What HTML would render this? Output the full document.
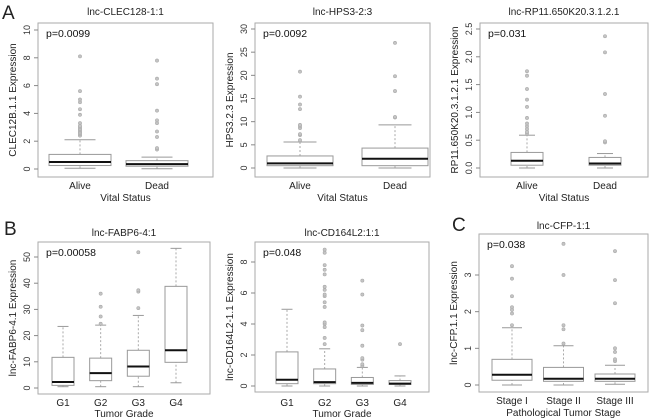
<!DOCTYPE html>
<html><head><meta charset="utf-8"><style>
html,body{margin:0;padding:0;background:#fff;}
svg{display:block;font-family:"Liberation Sans",sans-serif;}
</style></head><body>
<svg id="fig" width="650" height="418" viewBox="0 0 650 418">
<text x="2" y="19" font-size="19" fill="#222">A</text>
<text x="4" y="235" font-size="19" fill="#222">B</text>
<text x="452" y="231" font-size="19" fill="#222">C</text>
</svg>
<script>
// ---- data ----
const p1Categories = ["Alive","Dead"];
const p1Stats = [[0.05,0.25,0.5,1.05,2.1],[0.02,0.2,0.35,0.6,0.85]];
const p1Outliers = [[2.4,2.5,2.6,2.7,2.8,2.9,3.0,3.1,3.3,3.9,4.3,4.8,5.0,5.6,8.1],[1.4,1.5,2.3,2.7,3.3,3.5,4.2,6.1,6.5,7.8]];
const p1Ticks = [0,2,4,6,8,10];

const p2Categories = ["Alive","Dead"];
const p2Stats = [[0,0.5,1.0,2.6,5.6],[0,0.5,2.0,4.3,9.3]];
const p2Outliers = [[6,7.1,7.3,8.6,9,9.3,12.7,13.7,15.4,20.8],[10.9,11,16.6,19.8,27]];
const p2Ticks = [0,5,10,15,20,25,30];

const p3Categories = ["Alive","Dead"];
const p3Stats = [[0,0.05,0.13,0.28,0.59],[0,0.05,0.08,0.19,0.26]];
const p3Outliers = [[0.62,0.65,0.7,0.75,0.8,0.9,1.1,1.23,1.42,1.66,1.74],[0.46,0.48,0.94,1.33,2.08,2.37]];
const p3Ticks = ["0.0","0.5","1.0","1.5","2.0","2.5"];

const p4Categories = ["G1","G2","G3","G4"];
const p4Stats = [[0.5,1,2.3,11.7,23.5],[0.5,2.8,5.7,11.4,24],[0.5,4.5,8.2,14.4,27.7],[2,9.8,14.4,38.8,53.3]];
const p4Outliers = [[],[24.5,27.3,31,36],[30.5,36.8,37.3,51.8],[]];
const p4Ticks = [0,10,20,30,40,50];

const p5Categories = ["G1","G2","G3","G4"];
const p5Stats = [[0,0.15,0.4,2.2,4.95],[0,0.15,0.25,1.1,2.4],[0,0.1,0.2,0.55,1.2],[0,0.1,0.15,0.35,0.65]];
const p5Outliers = [[],[2.7,3.1,3.8,4.0,4.1,5.1,5.4,5.8,5.9,6.2,6.4,7.2,7.5,7.8,8.6,8.8],[1.3,1.4,1.7,1.8,2.6,3.6,3.9,5.9,6.8],[2.7]];
const p5Ticks = [0,2,4,6,8];

const p6Categories = ["Stage I","Stage II","Stage III"];
const p6Stats = [[0,0.13,0.28,0.7,1.56],[0,0.1,0.17,0.48,1.07],[0.02,0.1,0.17,0.3,0.54]];
const p6Outliers = [[1.63,1.95,2.05,2.12,2.42,2.9,3.24],[1.13,1.52,1.63,3.0,3.85],[0.65,0.7,0.9,1.0,2.23,2.86,3.65]];
const p6Ticks = [0,1,2,3];

// ---- layout ----
const panels = [
 {id:"clec12b",title:"lnc-CLEC128-1:1",ylab:"CLEC12B.1.1 Expression",xlab:"Vital Status",p:"p=0.0099",cats:p1Categories,stats:p1Stats,out:p1Outliers,ticks:p1Ticks,
  L:38,R:213,T:23,B:177,y0:169,y1:30,v0:0,v1:10,cx0:80,cx1:157,bw:62,tt:15,xl:189,xt:201},
 {id:"hps3",title:"lnc-HPS3-2:3",ylab:"HPS3.2.3 Expression",xlab:"Vital Status",p:"p=0.0092",cats:p2Categories,stats:p2Stats,out:p2Outliers,ticks:p2Ticks,
  L:255,R:430,T:23,B:177,y0:168,y1:29,v0:0,v1:30,cx0:300,cx1:395,bw:66,tt:15,xl:189,xt:201},
 {id:"rp11",title:"lnc-RP11.650K20.3.1.2.1",ylab:"RP11.650K20.3.1.2.1 Expression",xlab:"Vital Status",p:"p=0.031",cats:p3Categories,stats:p3Stats,out:p3Outliers,ticks:p3Ticks,
  L:480,R:648,T:23,B:177,y0:168,y1:29,v0:0,v1:2.5,cx0:527,cx1:605,bw:32,tt:15,xl:189,xt:201},
 {id:"fabp6",title:"lnc-FABP6-4:1",ylab:"lnc-FABP6-4.1 Expression",xlab:"Tumor Grade",p:"p=0.00058",cats:p4Categories,stats:p4Stats,out:p4Outliers,ticks:p4Ticks,
  L:38,R:210,T:242,B:394,y0:388,y1:257,v0:0,v1:50,cx0:63,cx1:176,bw:22,tt:236,xl:406,xt:417},
 {id:"cd164l2",title:"lnc-CD164L2:1:1",ylab:"lnc-CD164L2-1.1 Expression",xlab:"Tumor Grade",p:"p=0.048",cats:p5Categories,stats:p5Stats,out:p5Outliers,ticks:p5Ticks,
  L:255,R:429,T:242,B:392,y0:386,y1:262,v0:0,v1:8,cx0:287,cx1:400,bw:22,tt:236,xl:406,xt:417},
 {id:"cfp",title:"lnc-CFP-1:1",ylab:"lnc-CFP.1.1 Expression",xlab:"Pathological Tumor Stage",p:"p=0.038",cats:p6Categories,stats:p6Stats,out:p6Outliers,ticks:p6Ticks,
  L:479,R:648,T:234,B:392,y0:385,y1:275,v0:0,v1:3,cx0:512,cx1:615,bw:40,tt:229,xl:404,xt:416}
];
const NS="http://www.w3.org/2000/svg";
const svg=document.getElementById("fig");
function mk(tag,attrs,parent,txt){const e=document.createElementNS(NS,tag);for(const k in attrs)e.setAttribute(k,attrs[k]);if(txt!==undefined)e.textContent=txt;(parent||svg).appendChild(e);return e;}
panels.forEach(P=>{
  const g=mk("g",{});
  
  
  const ys=v=>P.y0+(v-P.v0)*(P.y1-P.y0)/(P.v1-P.v0);
  const n=P.cats.length;
  const xs=i=>n===1?P.cx0:P.cx0+i*(P.cx1-P.cx0)/(n-1);
  const fr=mk("rect",{x:P.L,y:P.T,width:P.R-P.L,height:P.B-P.T,fill:"none",stroke:"#aaa","stroke-width":1},g);
  
  
  const t=mk("text",{x:(P.L+P.R)/2,y:P.tt,"font-size":10,"text-anchor":"middle",fill:"#222"},g,P.title);
  
  
  const pv=mk("text",{x:P.L+8,y:P.T+14,"font-size":10.5,fill:"#111"},g,P.p);
  
  
  P.ticks.forEach(tk=>{
    const y=ys(parseFloat(tk));
    const tl=mk("line",{x1:P.L,x2:P.L-4,y1:y,y2:y,stroke:"#888"},g);
    
    
    const lx=P.L-8;
    const tx=mk("text",{x:lx,y:y,"font-size":9,"text-anchor":"middle",fill:"#333",transform:`rotate(-90 ${lx} ${y})`},g,String(tk));
    
    
  });
  const ax=P.L-22, ay=(P.T+P.B)/2;
  const yl=mk("text",{x:ax,y:ay,"font-size":10,"text-anchor":"middle",fill:"#222",transform:`rotate(-90 ${ax} ${ay})`},g,P.ylab);
  
  
  const xl=mk("text",{x:(P.L+P.R)/2,y:P.xt,"font-size":10,"text-anchor":"middle",fill:"#222"},g,P.xlab);
  
  
  P.cats.forEach((c,i)=>{
    const x=xs(i), s=P.stats[i], h=P.bw/2;
    const cl=mk("text",{x:x,y:P.xl,"font-size":10,"text-anchor":"middle",fill:"#222"},g,c);
    
    
    const w1=mk("line",{x1:x,x2:x,y1:ys(s[0]),y2:ys(s[1]),stroke:"#aaa","stroke-dasharray":"2,2"},g);
    
    
    const w2=mk("line",{x1:x,x2:x,y1:ys(s[3]),y2:ys(s[4]),stroke:"#aaa","stroke-dasharray":"2,2"},g);
    
    
    [s[0],s[4]].forEach(v=>{
      const cap=mk("line",{x1:x-h/2,x2:x+h/2,y1:ys(v),y2:ys(v),stroke:"#999"},g);
      
      
    });
    const b=mk("rect",{x:x-h,y:ys(s[3]),width:P.bw,height:ys(s[1])-ys(s[3]),fill:"#fff",stroke:"#999"},g);
    
    
    const m=mk("line",{x1:x-h,x2:x+h,y1:ys(s[2]),y2:ys(s[2]),stroke:"#111","stroke-width":2},g);
    
    
    P.out[i].forEach(v=>{
      const o=mk("circle",{cx:x,cy:ys(v),r:1.6,fill:"#c4c4c4",stroke:"#a8a8a8","stroke-width":0.6},g);
      
      
    });
  });
});
</script>
</body></html>
